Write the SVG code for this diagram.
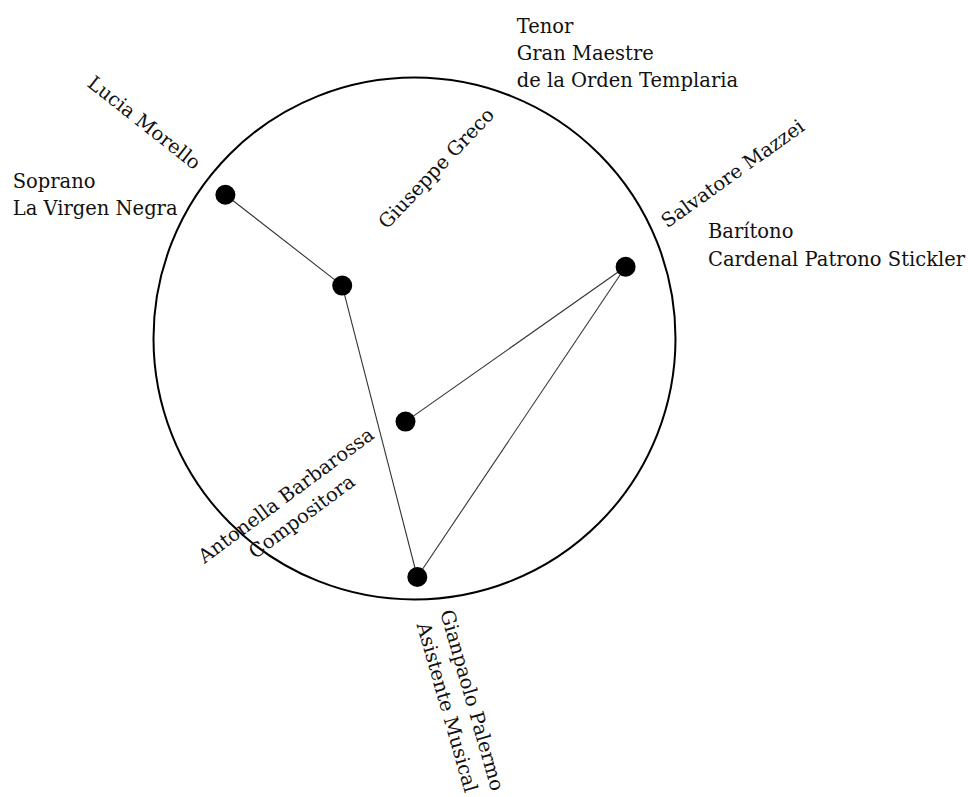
<svg xmlns="http://www.w3.org/2000/svg" width="968" height="797" viewBox="0 0 968 797">
<style>
text{font-family:"DejaVu Serif","Liberation Serif",serif;font-size:19.5px;fill:#111}
.c{text-anchor:middle}
.ring{fill:none;stroke:#000;stroke-width:2}
.edge{stroke:#333;stroke-width:1.1;fill:none}
.dot{fill:#000}
</style>
<rect width="968" height="797" fill="#fff"/>
<circle class="ring" cx="414.5" cy="338.5" r="261"/>
<g id="connectors">
<line class="edge" x1="225.4" y1="194.7" x2="342.2" y2="285.6"/>
<line class="edge" x1="342.2" y1="285.6" x2="417.3" y2="577"/>
<line class="edge" x1="405.5" y1="421.6" x2="625.6" y2="266.7"/>
<line class="edge" x1="625.6" y1="266.7" x2="417.3" y2="577"/>
</g>
<g id="lucia">
<circle class="dot" cx="225.4" cy="194.7" r="10"/>
<text transform="translate(144.5,122.5) rotate(38.3)" class="c" y="7">Lucia Morello</text>
<text x="12.7" y="188">Soprano</text>
<text x="12.7" y="215">La Virgen Negra</text>
</g>
<g id="giuseppe">
<circle class="dot" cx="342.2" cy="285.6" r="10"/>
<text transform="translate(436,168) rotate(-46.4)" class="c" y="7">Giuseppe Greco</text>
<text x="516.7" y="32.5">Tenor</text>
<text x="516.7" y="60">Gran Maestre</text>
<text x="516.7" y="87">de la Orden Templaria</text>
</g>
<g id="salvatore">
<circle class="dot" cx="625.6" cy="266.7" r="10"/>
<text transform="translate(732.5,173.3) rotate(-35.6)" class="c" y="7">Salvatore Mazzei</text>
<text x="708" y="238">Barítono</text>
<text x="708" y="265.5">Cardenal Patrono Stickler</text>
</g>
<g id="antonella">
<circle class="dot" cx="405.5" cy="421.6" r="10"/>
<g transform="translate(285.8,495) rotate(-36.5)">
<text class="c" y="7">Antonella Barbarossa</text>
<text class="c" y="33.5">Compositora</text>
</g>
</g>
<g id="gianpaolo">
<circle class="dot" cx="417.3" cy="577" r="10"/>
<g transform="translate(472.5,700) rotate(74)">
<text class="c" y="7">Gianpaolo Palermo</text>
<text class="c" y="33">Asistente Musical</text>
</g>
</g>
</svg>
